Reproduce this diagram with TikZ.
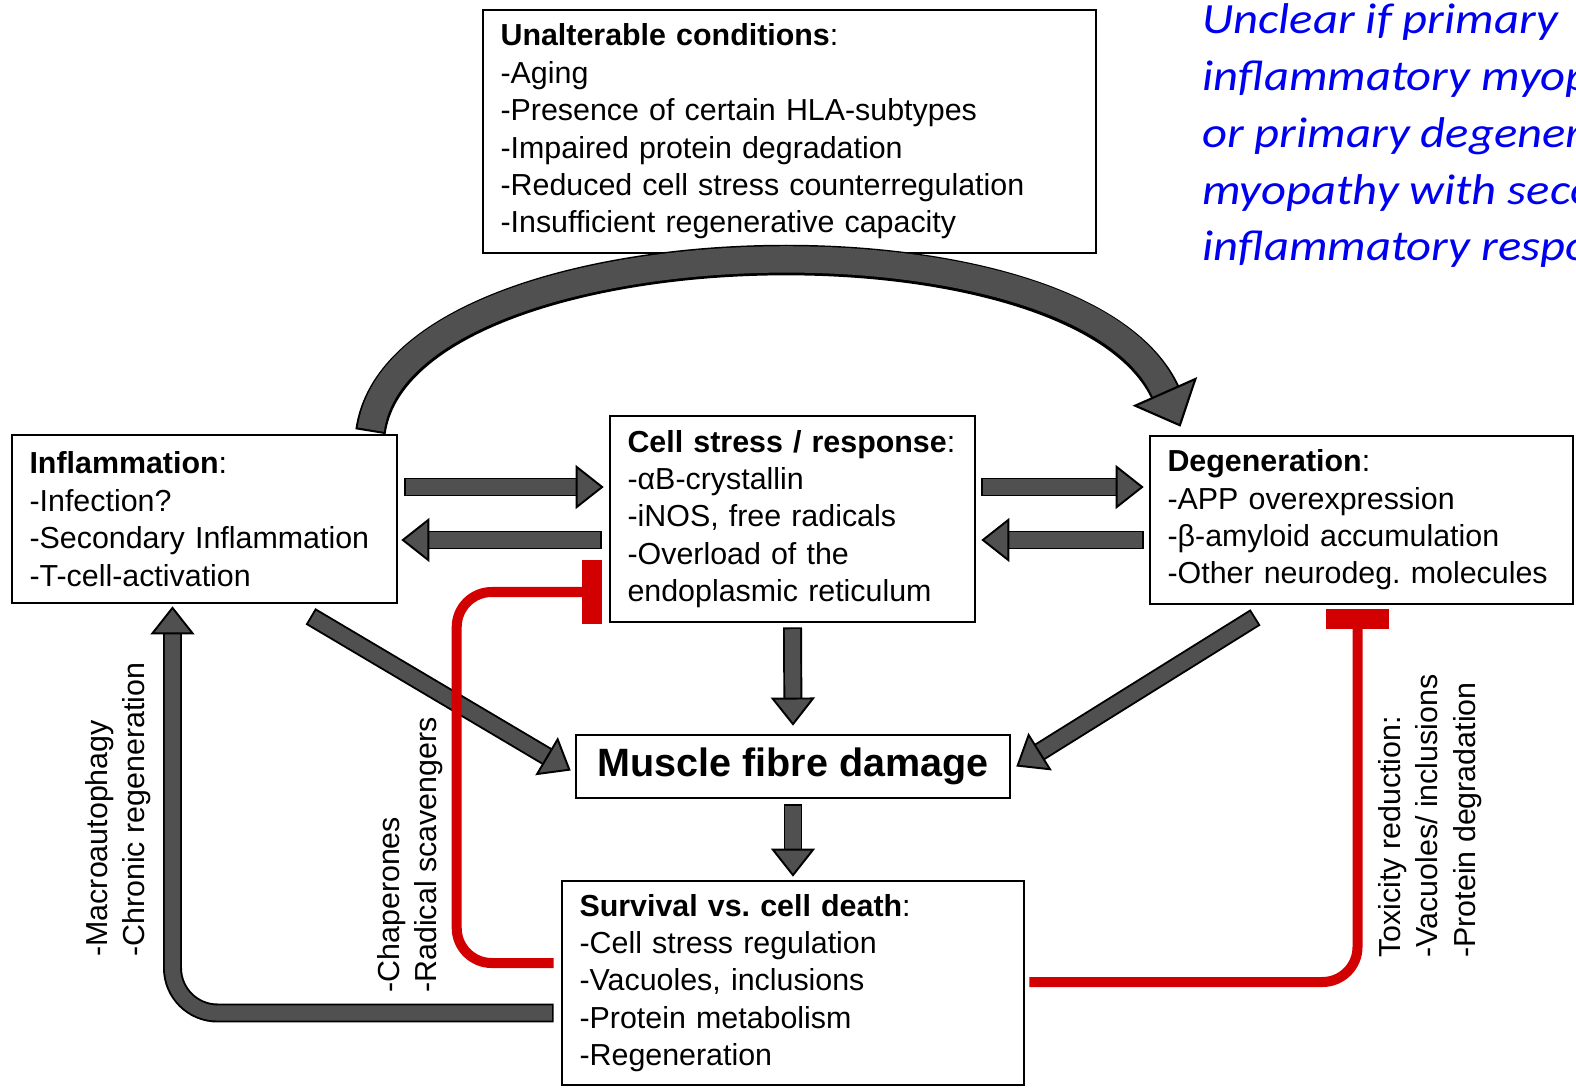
\documentclass[tikz,border=0pt]{standalone}
\usepackage{fontspec}
\setmainfont{Liberation Sans}
\newfontfamily\notefont[FakeStretch=1.13]{Carlito}
\usetikzlibrary{arrows.meta,calc}
\definecolor{arrgrey}{RGB}{80,80,80}
\definecolor{inhred}{RGB}{210,0,0}
\definecolor{noteblue}{RGB}{0,0,240}
\frenchspacing

\begin{document}
\begin{tikzpicture}[x=0.02cm, y=0.02cm,
    box/.style={draw, line width=1.5pt, inner xsep=0.35cm, inner ysep=0pt, align=left,
      font=\fontsize{17.3}{21.3}\selectfont},
    side/.style={rotate=90, anchor=west, align=left, inner sep=0pt,
      font=\fontsize{17.3}{21.3}\selectfont},
    fat/.style={draw=arrgrey, line width=8.6pt, shorten <=1.1pt,
      -{Triangle[length=16pt,width=25pt,color=black,fill=arrgrey,line width'=1.1pt]},
      preaction={draw=black, line width=10.8pt, -, shorten >=14pt, shorten <=0pt}},
    bigfat/.style={draw=arrgrey, line width=15pt, shorten <=1.2pt,
      -{Triangle[length=22pt,width=40pt,color=black,fill=arrgrey,line width'=1.2pt]},
      preaction={draw=black, line width=17.4pt, -, shorten >=20pt, shorten <=0pt}},
    inhibit/.style={draw=inhred, line width=5.7pt, rounded corners=0.7cm,
      -{Rectangle[length=11pt,width=36pt,line width'=0pt]}}]

    \useasboundingbox (0,0) rectangle (1576,-1092);

    % boxes
    \node[box, text width=11.56cm, minimum height=4.86cm] (Unalt) at (789.5,-131.5)
        {\textbf{Unalterable conditions}:\\-Aging\\-Presence of certain HLA-subtypes\\-Impaired protein degradation\\-Reduced cell stress counterregulation\\-Insufficient regenerative capacity};
    \node[box, text width=7.0cm, minimum height=3.36cm] (Inf) at (204.5,-519)
        {\textbf{Inflammation}:\\-Infection?\\-Secondary Inflammation\\-T-cell-activation};
    \node[box, text width=6.6cm, minimum height=4.12cm] (Cell) at (792.5,-519)
        {\textbf{Cell stress / response}:\\-αB-crystallin\\-iNOS, free radicals\\-Overload of the\\endoplasmic reticulum};
    \node[box, text width=7.76cm, minimum height=3.36cm] (Deg) at (1361.5,-520)
        {\textbf{Degeneration}:\\-APP overexpression\\-β-amyloid accumulation\\-Other neurodeg. molecules};
    \node[box, align=center, minimum width=8.68cm, minimum height=1.26cm,
        font=\fontsize{22.5}{27}\selectfont\bfseries] (Dmg) at (793,-766.5) {Muscle fibre damage};
    \node[box, text width=8.54cm, minimum height=4.08cm] (Surv) at (793,-983)
        {\textbf{Survival vs. cell death}:\\-Cell stress regulation\\-Vacuoles, inclusions\\-Protein metabolism\\-Regeneration};

    % labels along the feedback paths
    \node[side] (MacroLbl) at (118,-957) {-Macroautophagy\\-Chronic regeneration};
    \node[side] (ChapLbl) at (410,-993) {-Chaperones\\-Radical scavengers};
    \node[side] (ToxLbl) at (1430,-958) {Toxicity reduction:\\-Vacuoles/ inclusions\\-Protein degradation};

    \node[anchor=north west, inner sep=0pt, align=left, text=noteblue,
        font=\notefont\itshape\fontsize{24.5}{32.4}\selectfont] (Note) at (1202,-3)
        {Unclear if primary\\inflammatory myopathy\\or primary degenerative\\myopathy with secondary\\inflammatory response};

    % block arrows
    \draw[bigfat] ($(Inf.north)+(166,2)$) .. controls (400,-220) and (1080,-200) .. ($(Deg.north)+(-181,8)$);
    \draw[fat] ($(Inf.east)+(6,32)$) -- ($(Cell.west)+(-5,32)$);
    \draw[fat] ($(Cell.west)+(-7,-21)$) -- ($(Inf.east)+(3,-21)$);
    \draw[fat] ($(Cell.east)+(5,32)$) -- ($(Deg.west)+(-5,33)$);
    \draw[fat] ($(Deg.west)+(-5,-20)$) -- ($(Cell.east)+(5,-21)$);
    \draw[fat] ($(Cell.south)+(0,-4)$) -- ($(Dmg.north)+(0,8)$);
    \draw[fat] ($(Dmg.south)+(0,-5)$) -- ($(Surv.north)+(0,3)$);
    \draw[fat] ($(Inf.south)+(106,-12)$) -- ($(Dmg.west)+(-4,-4)$);
    \draw[fat] ($(Deg.south)+(-106,-12)$) -- ($(Dmg.east)+(5,0)$);
    \draw[fat, rounded corners=0.9cm] ($(Surv.west)+(-7,-30)$) -| ($(Inf.south)+(-32,-2)$);

    % inhibition
    \draw[inhibit] ($(Surv.west)+(-7,20)$) -| ($(Cell.west)+(-152,-73)$) -- ($(Cell.west)+(-7,-73)$);
    \draw[inhibit] ($(Surv.east)+(4,1)$) -| ($(Deg.south)+(-4,-4)$);
\end{tikzpicture}
\end{document}
